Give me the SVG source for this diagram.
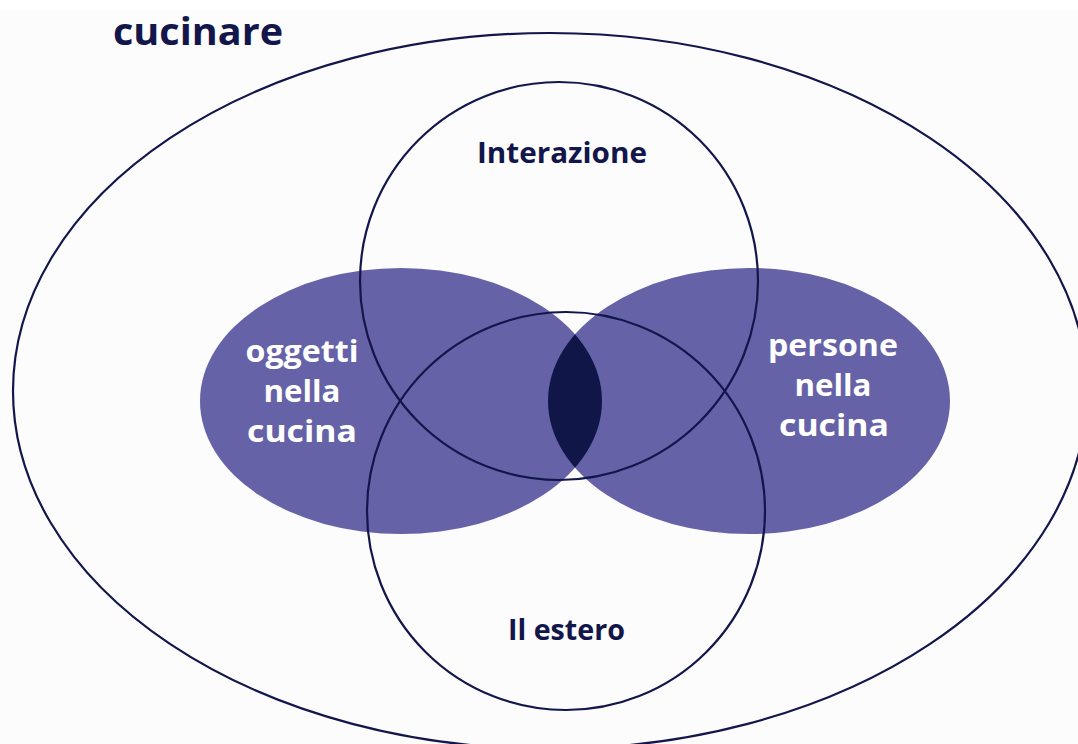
<svg xmlns="http://www.w3.org/2000/svg" width="1078" height="744" viewBox="0 0 1078 744">
  <style>
    .line { fill: none; stroke: #12164a; stroke-width: 2.2; }
    .set { fill: #6662a7; }
    .lens { fill: #111649; }
    .dark { font-family: "Open Sans", "Liberation Sans", sans-serif; font-weight: 700; fill: #12164a; text-anchor: middle; }
    .light { font-family: "Open Sans", "Liberation Sans", sans-serif; font-weight: 700; fill: #ffffff; text-anchor: middle; font-size: 31px; }
  </style>
  <defs>
    <clipPath id="clipLeft">
      <ellipse cx="401" cy="401" rx="201" ry="133"/>
    </clipPath>
  </defs>
  <rect x="0" y="0" width="1078" height="744" fill="#fcfcfd"/>
  <rect x="0" y="0" width="1078" height="10" fill="#ffffff"/>

  <g id="cucinare">
    <ellipse class="line" cx="550" cy="391" rx="537" ry="358"/>
    <text class="dark" x="198" y="45" font-size="37" textLength="170" lengthAdjust="spacingAndGlyphs">cucinare</text>
  </g>

  <g id="oggetti">
    <ellipse class="set" cx="401" cy="401" rx="201" ry="133"/>
  </g>
  <g id="persone">
    <ellipse class="set" cx="749" cy="401" rx="201" ry="133"/>
  </g>
  <g id="overlap">
    <ellipse class="lens" cx="749" cy="401" rx="201" ry="133" clip-path="url(#clipLeft)"/>
  </g>

  <g id="interazione">
    <circle class="line" cx="559" cy="281" r="199"/>
    <text class="dark" x="562" y="163" font-size="29" textLength="170" lengthAdjust="spacingAndGlyphs">Interazione</text>
  </g>
  <g id="estero">
    <circle class="line" cx="566" cy="511" r="199"/>
    <text class="dark" x="566.5" y="640" font-size="29" textLength="117" lengthAdjust="spacingAndGlyphs">Il estero</text>
  </g>

  <g id="oggetti-label">
    <text class="light" x="302" y="362" textLength="113" lengthAdjust="spacingAndGlyphs">oggetti</text>
    <text class="light" x="302" y="402" textLength="77" lengthAdjust="spacingAndGlyphs">nella</text>
    <text class="light" x="302" y="442" textLength="110" lengthAdjust="spacingAndGlyphs">cucina</text>
  </g>
  <g id="persone-label">
    <text class="light" x="833" y="356" textLength="130" lengthAdjust="spacingAndGlyphs">persone</text>
    <text class="light" x="833" y="396" textLength="77" lengthAdjust="spacingAndGlyphs">nella</text>
    <text class="light" x="834" y="436" textLength="110" lengthAdjust="spacingAndGlyphs">cucina</text>
  </g>

  <g id="connectors"></g>
</svg>
